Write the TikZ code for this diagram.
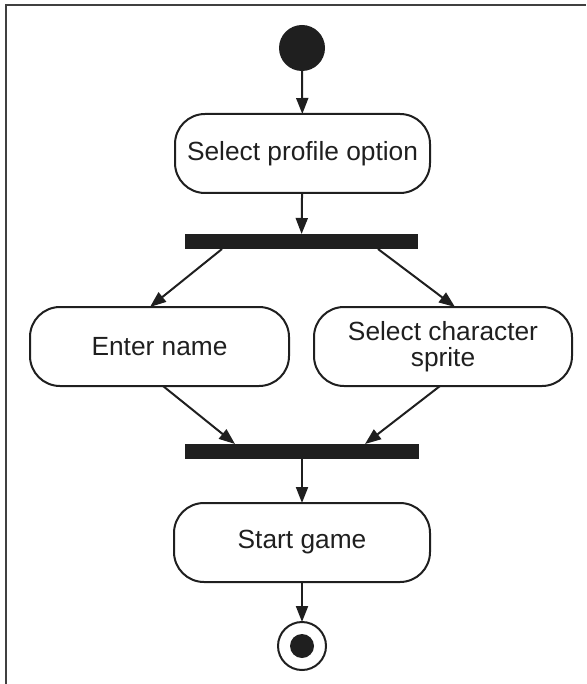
\documentclass[tikz,border=0pt]{standalone}
\usepackage{fontspec}
\setmainfont{Liberation Sans}
\usetikzlibrary{arrows.meta,calc}
\begin{document}
\begin{tikzpicture}[x=1pt,y=-1pt,
  every node/.style={inner sep=0pt,outer sep=0pt},
  act/.style={draw=black!88,line width=2pt,rounded corners=30pt,minimum height=79pt,align=center,
    font=\fontsize{26.3}{26}\selectfont,text=black!88},
  bar/.style={fill=black!88,minimum height=15pt},
  flow/.style={draw=black!88,line width=2pt,-{Triangle[length=16pt,width=12pt]}},
  frame/.style={draw=black!75,line width=2pt}]
\useasboundingbox (0,0) rectangle (586,684);
\draw[frame] (5.5,684) -- (5.5,5.5) -- (586,5.5);
\node[circle,fill=black!88,minimum size=46pt] (start) at (302,48) {};
\node[act,minimum width=255pt] (sp) at (302.5,153.5) {Select profile option};
\node[bar,minimum width=233pt] (bar1) at (301.5,241.5) {};
\node[act,minimum width=259pt] (en) at (159.5,346.5) {Enter name};
\node[act,minimum width=258pt] (sc) at (443,346.5) {Select character\\sprite};
\node[bar,minimum width=234pt] (bar2) at (302,451.5) {};
\node[act,minimum width=256pt] (sg) at (302,542.5) {Start game};
\node[circle,draw=black!88,line width=2pt,minimum size=48pt] (end) at (302,646) {};
\node[circle,fill=black!88,minimum size=24pt] (endin) at (end.center) {};
\draw[flow] (start) -- (sp);
\draw[flow] (sp) -- (bar1);
\draw[flow] ([xshift=-79.5pt]bar1.south) -- ([xshift=-9.5pt]en.north);
\draw[flow] ([xshift=76.5pt]bar1.south) -- ([xshift=12pt]sc.north);
\draw[flow] ([xshift=3.5pt]en.south) -- ([xshift=-67pt]bar2.north);
\draw[flow] ([xshift=-3pt]sc.south) -- ([xshift=63pt]bar2.north);
\draw[flow] (bar2) -- (sg);
\draw[flow] (sg) -- (end);
\end{tikzpicture}
\end{document}
